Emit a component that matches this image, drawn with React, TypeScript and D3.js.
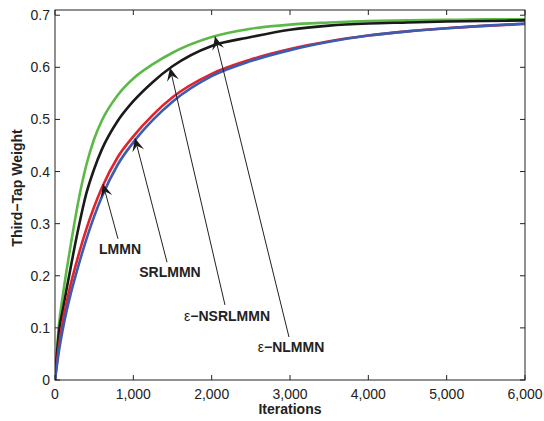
import React, { useRef, useEffect } from 'react';
import * as d3 from 'd3';

const iterations = [0, 50, 100, 150, 200, 300, 400, 500, 600, 800, 1000, 1250, 1500, 2000, 2500, 3000, 3500, 4000, 4500, 5000, 5500, 6000];

const eNLMMN = [0, 0.105, 0.1625, 0.2125, 0.2585, 0.3445, 0.4125, 0.4625, 0.4985, 0.5465, 0.5785, 0.606, 0.628, 0.658, 0.674, 0.682, 0.686, 0.689, 0.690, 0.691, 0.692, 0.692];
const eNSRLMMN = [0, 0.092, 0.135, 0.176, 0.216, 0.292, 0.358, 0.405, 0.443, 0.497, 0.535, 0.572, 0.602, 0.641, 0.658, 0.672, 0.680, 0.684, 0.686, 0.688, 0.689, 0.690];
const LMMN = [0, 0.065, 0.1125, 0.1505, 0.1835, 0.2395, 0.2895, 0.3325, 0.3695, 0.4275, 0.4675, 0.5088, 0.5425, 0.5875, 0.615, 0.635, 0.650, 0.661, 0.669, 0.675, 0.6795, 0.683];
const SRLMMN = [0, 0.055, 0.098, 0.134, 0.165, 0.22, 0.27, 0.314, 0.352, 0.413, 0.456, 0.499, 0.534, 0.583, 0.612, 0.633, 0.649, 0.661, 0.669, 0.675, 0.680, 0.684];

const xTicks = [0, 1000, 2000, 3000, 4000, 5000, 6000];
const yTicks = [0, 0.1, 0.2, 0.3, 0.4, 0.5, 0.6, 0.7];

// annotation: label, arrow tip, arrow tail, label anchor (all in data units)
const labels = ['LMMN', 'SRLMMN', 'NSRLMMN', 'NLMMN'];
const hasEps = [false, false, true, true];
const tips = [[613, 0.376], [1021, 0.464], [1468, 0.599], [2043, 0.659]];
const tails = [[804, 0.271], [1430, 0.226], [2170, 0.144], [2987, 0.0825]];
const labelPos = [[830, 0.242], [1468, 0.198], [2196, 0.113], [3013, 0.054]];

const App = () => {
    const svgRef = useRef(null);

    useEffect(() => {
        const svg = d3.select(svgRef.current);
        svg.selectAll('*').remove();

        const W = 544, H = 421;
        const left = 55, right = 525, top = 10, bottom = 380;
        const font = '"Liberation Sans", Arial, Helvetica, sans-serif';

        svg.attr('width', W).attr('height', H).style('background', '#fff');

        const x = d3.scaleLinear().domain([0, 6000]).range([left, right]);
        const y = d3.scaleLinear().domain([0, 0.71]).range([bottom, top]);

        // curves
        const series = [
            { values: eNLMMN, color: '#5cb947' },
            { values: eNSRLMMN, color: '#1a1a1a' },
            { values: LMMN, color: '#e3232c' },
            { values: SRLMMN, color: '#3b5cb0' },
        ];
        const line = d3.line<number>()
            .x((_, i) => x(iterations[i]))
            .y(d => y(d))
            .curve(d3.curveMonotoneX);

        const plot = svg.append('g');
        plot.append('clipPath').attr('id', 'clip')
            .append('rect').attr('x', left).attr('y', top)
            .attr('width', right - left).attr('height', bottom - top);
        series.forEach(s => {
            plot.append('path')
                .attr('d', line(s.values))
                .attr('fill', 'none')
                .attr('stroke', s.color)
                .attr('stroke-width', 2.6)
                .attr('clip-path', 'url(#clip)');
        });

        // axes box
        svg.append('rect')
            .attr('x', left).attr('y', top)
            .attr('width', right - left).attr('height', bottom - top)
            .attr('fill', 'none').attr('stroke', '#222').attr('stroke-width', 1);

        const tk = 5;
        xTicks.forEach(t => {
            const px = x(t);
            svg.append('line').attr('x1', px).attr('x2', px).attr('y1', bottom).attr('y2', bottom - tk).attr('stroke', '#222');
            svg.append('line').attr('x1', px).attr('x2', px).attr('y1', top).attr('y2', top + tk).attr('stroke', '#222');
            svg.append('text')
                .attr('x', px).attr('y', 399)
                .attr('text-anchor', 'middle')
                .style('font-family', font).style('font-size', '14px').attr('fill', '#222')
                .text(d3.format(',')(t));
        });
        yTicks.forEach(v => {
            const py = y(v);
            svg.append('line').attr('x1', left).attr('x2', left + tk).attr('y1', py).attr('y2', py).attr('stroke', '#222');
            svg.append('line').attr('x1', right).attr('x2', right - tk).attr('y1', py).attr('y2', py).attr('stroke', '#222');
            svg.append('text')
                .attr('x', left - 5).attr('y', py + 5)
                .attr('text-anchor', 'end')
                .style('font-family', font).style('font-size', '14px').attr('fill', '#222')
                .text(v === 0 ? '0' : d3.format('.1f')(v));
        });

        svg.append('text')
            .attr('x', (left + right) / 2).attr('y', 414)
            .attr('text-anchor', 'middle')
            .style('font-family', font).style('font-size', '14px').style('font-weight', 'bold').attr('fill', '#222')
            .text('Iterations');

        svg.append('text')
            .attr('transform', 'translate(22,188) rotate(-90)')
            .attr('text-anchor', 'middle')
            .style('font-family', font).style('font-size', '14px').style('font-weight', 'bold').attr('fill', '#222')
            .text('Third\u2212Tap Weight');

        // annotations
        labels.forEach((lab, i) => {
            const [tx, ty] = [x(tips[i][0]), y(tips[i][1])];
            const [sx, sy] = [x(tails[i][0]), y(tails[i][1])];
            svg.append('line')
                .attr('x1', sx).attr('y1', sy).attr('x2', tx).attr('y2', ty)
                .attr('stroke', '#222').attr('stroke-width', 1);
            const ang = Math.atan2(ty - sy, tx - sx) * 180 / Math.PI;
            const L = 13, hw = 6;
            svg.append('path')
                .attr('d', `M0,0 L${-L},${-hw} L${-L * 0.6},0 L${-L},${hw} Z`)
                .attr('transform', `translate(${tx},${ty}) rotate(${ang})`)
                .attr('fill', '#1a1a1a');

            const t = svg.append('text')
                .attr('x', x(labelPos[i][0])).attr('y', y(labelPos[i][1]))
                .attr('text-anchor', 'middle')
                .style('font-family', font).style('font-size', '14px').style('font-weight', 'bold').attr('fill', '#222');
            if (hasEps[i]) {
                t.append('tspan').style('font-weight', 'normal').text('\u03b5');
                t.append('tspan').text('\u2212' + lab);
            } else {
                t.text(lab);
            }
        });
    }, []);

    return <svg ref={svgRef} style={{ position: 'absolute', left: 0, top: 0 }}></svg>;
};

export default App;
